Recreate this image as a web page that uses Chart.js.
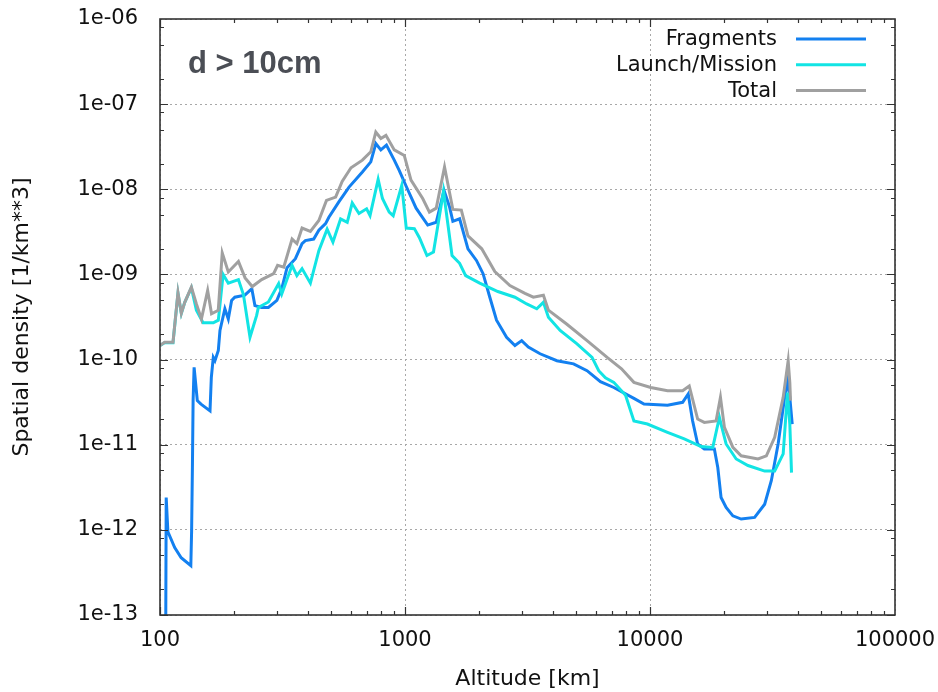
<!DOCTYPE html>
<html>
<head>
  <meta charset="UTF-8">
  <title>Spatial density vs altitude</title>
  <script src="https://cdn.jsdelivr.net/npm/chart.js@4.4.0/dist/chart.umd.min.js"></script>
  <style>
    html, body { margin: 0; padding: 0; background: #fff; }
  </style>
</head>
<body>
<canvas id="myChart" width="938" height="692"></canvas>
<script>
  // altitude [km] / spatial density [1/km^3]
  const fragAlt = [105.5, 106, 107.7, 114.8, 122, 133.6, 134.6, 135.6, 136.5, 137.8, 142, 147, 160, 162, 165, 167.6, 173, 175.7, 184, 190,
    196, 202, 222, 237, 244, 260, 277, 300, 314, 330, 357, 380, 392, 424, 445, 474, 489, 537, 591, 670,
    725, 760, 797, 840, 904, 947, 1009, 1110, 1238, 1341, 1443, 1520, 1568, 1671, 1807, 1957, 2083, 2219, 2364, 2598,
    2810, 2994, 3187, 3559, 4168, 4875, 5534, 6275, 7116, 8597, 9449, 11790, 13590, 14320, 14930, 15650, 16660, 18310, 18910, 19500,
    20450, 21790, 23560, 26730, 29380, 31290, 33340, 35290, 36410, 37210, 38060];
  const fragDens = [5e-14, 2.4e-12, 9.5e-13, 6.2e-13, 4.7e-13, 3.8e-13, 9.7e-13, 5.4e-12, 3.3e-11, 8.1e-11, 3.3e-11, 3.0e-11, 2.5e-11, 6.2e-11, 1.06e-10, 9.7e-11, 1.28e-10, 2.2e-10, 3.95e-10, 3.0e-10,
    4.95e-10, 5.4e-10, 5.7e-10, 6.8e-10, 4.3e-10, 4.1e-10, 4.1e-10, 4.95e-10, 6.8e-10, 1.2e-9, 1.53e-9, 2.3e-9, 2.5e-9, 2.6e-9, 3.3e-9, 3.95e-9, 4.7e-9, 7.1e-9, 1.06e-8, 1.6e-8,
    2.1e-8, 3.45e-8, 2.9e-8, 3.3e-8, 2.2e-8, 1.67e-8, 1.1e-8, 6.0e-9, 3.8e-9, 4.1e-9, 9.7e-9, 6.2e-9, 4.2e-9, 4.5e-9, 2.0e-9, 1.46e-9, 1.02e-9, 5.4e-10, 2.9e-10, 1.83e-10,
    1.46e-10, 1.67e-10, 1.4e-10, 1.17e-10, 9.7e-11, 8.9e-11, 7.4e-11, 5.5e-11, 4.7e-11, 3.5e-11, 3.0e-11, 2.9e-11, 3.15e-11, 3.95e-11, 1.9e-11, 1.02e-11, 8.9e-12, 8.9e-12, 5.4e-12, 2.4e-12,
    1.83e-12, 1.46e-12, 1.34e-12, 1.4e-12, 2.0e-12, 3.8e-12, 1.02e-11, 3.3e-11, 5.7e-11, 3.6e-11, 1.75e-11];

  const launchAlt = [100, 104.4, 113, 118.4, 122.2, 126.2, 134.3, 140.8, 150, 165, 173, 181, 190, 209, 219, 233, 248, 252, 277, 305,
    314, 346, 362, 380, 411, 445, 481, 508, 546, 581, 609, 649, 697, 720, 777, 809, 862, 895, 970, 1012,
    1092, 1145, 1229, 1307, 1436, 1556, 1671, 1768, 2018, 2393, 2810, 3139, 3450, 3672, 3849, 4298, 5035, 5801, 6175, 6578,
    7116, 7948, 8597, 9757, 11790, 13800, 16150, 18040, 19200, 19500, 20450, 22480, 25110, 29380, 32280, 34960, 36410, 37210, 37810];
  const launchDens = [1.46e-10, 1.58e-10, 1.58e-10, 6.0e-10, 3.5e-10, 4.7e-10, 7.0e-10, 3.8e-10, 2.7e-10, 2.7e-10, 2.9e-10, 1.0e-9, 7.9e-10, 8.7e-10, 5.8e-10, 1.83e-10, 3.3e-10, 4.1e-10, 4.75e-10, 7.8e-10,
    5.9e-10, 1.28e-9, 9.7e-10, 1.17e-9, 7.9e-10, 1.9e-9, 3.4e-9, 2.4e-9, 4.5e-9, 4.1e-9, 6.9e-9, 5.2e-9, 5.9e-9, 4.9e-9, 1.31e-8, 7.8e-9, 5.4e-9, 4.9e-9, 1.11e-8, 3.5e-9,
    3.45e-9, 2.7e-9, 1.67e-9, 1.83e-9, 9.5e-9, 1.67e-9, 1.35e-9, 9.7e-10, 7.9e-10, 6.3e-10, 5.4e-10, 4.5e-10, 3.95e-10, 4.7e-10, 3.15e-10, 2.2e-10, 1.53e-10, 1.06e-10, 7.4e-11, 6.1e-11,
    5.4e-11, 3.8e-11, 1.9e-11, 1.75e-11, 1.4e-11, 1.17e-11, 9.5e-12, 9.3e-12, 2.1e-11, 1.75e-11, 1.02e-11, 6.8e-12, 5.7e-12, 4.9e-12, 4.9e-12, 7.8e-12, 4.1e-11, 1.75e-11, 4.7e-12];

  const totalAlt = [100, 104.4, 113, 118.4, 122.2, 126.2, 134.3, 140.8, 147.6, 156.5, 162.3, 172.9, 179.5, 190, 209, 222.5, 238, 260, 291, 302,
    320, 346, 362, 380, 411, 445, 478, 521, 554, 602, 670, 725, 760, 797, 836, 904, 993, 1058, 1181, 1258,
    1341, 1450, 1568, 1698, 1807, 2057, 2326, 2680, 3088, 3341, 3672, 3849, 4580, 5534, 6685, 7652, 8597, 10070, 11790, 13590,
    14460, 15650, 16660, 18610, 19390, 20130, 21790, 23560, 27600, 29850, 32280, 34960, 36640, 37210, 37460];
  const totalDens = [1.46e-10, 1.6e-10, 1.6e-10, 6.1e-10, 3.5e-10, 4.7e-10, 7.1e-10, 4.5e-10, 3.0e-10, 6.5e-10, 3.45e-10, 3.8e-10, 1.79e-9, 1.07e-9, 1.42e-9, 9.1e-10, 7.2e-10, 8.7e-10, 1.02e-9, 1.28e-9,
    1.22e-9, 2.6e-9, 2.3e-9, 3.5e-9, 3.2e-9, 4.3e-9, 7.4e-9, 8.1e-9, 1.24e-8, 1.79e-8, 2.2e-8, 2.76e-8, 4.7e-8, 3.95e-8, 4.3e-8, 2.9e-8, 2.5e-8, 1.28e-8, 7.8e-9, 5.4e-9,
    6.0e-9, 1.83e-8, 5.8e-9, 5.7e-9, 2.84e-9, 2.0e-9, 1.08e-9, 7.4e-10, 6.0e-10, 5.4e-10, 5.7e-10, 3.8e-10, 2.6e-10, 1.67e-10, 1.06e-10, 7.8e-11, 5.4e-11, 4.7e-11, 4.3e-11, 4.3e-11,
    4.9e-11, 2.0e-11, 1.83e-11, 1.9e-11, 3.6e-11, 1.6e-11, 9.3e-12, 7.4e-12, 6.8e-12, 7.4e-12, 1.22e-11, 3.6e-11, 9.7e-11, 5.4e-11, 3.3e-11];

  const xTicks = [100, 1000, 10000, 100000];
  const xTickLabels = ['100', '1000', '10000', '100000'];
  const yTicks = [1e-13, 1e-12, 1e-11, 1e-10, 1e-9, 1e-8, 1e-7, 1e-6];
  const yTickLabels = ['1e-13', '1e-12', '1e-11', '1e-10', '1e-09', '1e-08', '1e-07', '1e-06'];

  function pairs(xs, ys) {
    return xs.map((v, i) => ({x: v, y: ys[i]}));
  }

  const FONT = "'DejaVu Sans', sans-serif";
  Chart.defaults.font.family = FONT;
  Chart.defaults.font.size = 21;
  Chart.defaults.color = '#111';

  // gnuplot-like frame: box, inward major/minor ticks, legend, label
  const frame = {
    id: 'frame',
    afterDraw(chart) {
      const ctx = chart.ctx;
      const a = chart.chartArea;
      const x = chart.scales.x, y = chart.scales.y;
      ctx.save();
      ctx.strokeStyle = '#333';
      ctx.lineWidth = 1.2;
      ctx.beginPath();
      for (let e = 2; e < 5; e++) {
        for (let m = 1; m < 10; m++) {
          const px = Math.round(x.getPixelForValue(m * Math.pow(10, e))) + 0.5;
          const len = m === 1 ? 8 : 4;
          ctx.moveTo(px, a.bottom); ctx.lineTo(px, a.bottom - len);
          ctx.moveTo(px, a.top); ctx.lineTo(px, a.top + len);
        }
      }
      for (let e = -13; e < -6; e++) {
        [1, 2, 5, 8].forEach(m => {
          const py = Math.round(y.getPixelForValue(m * Math.pow(10, e))) + 0.5;
          const len = m === 1 ? 8 : 4;
          ctx.moveTo(a.left, py); ctx.lineTo(a.left + len, py);
          ctx.moveTo(a.right, py); ctx.lineTo(a.right - len, py);
        });
      }
      ctx.stroke();
      ctx.lineWidth = 1.6;
      ctx.strokeRect(a.left, a.top, a.right - a.left, a.bottom - a.top);

      // legend
      ctx.font = '21px ' + FONT;
      ctx.textAlign = 'right';
      ctx.textBaseline = 'middle';
      chart.data.datasets.forEach((ds, i) => {
        const ly = 39 + i * 25.7;
        ctx.fillStyle = '#111';
        ctx.fillText(ds.label, 777, ly + 1);
        ctx.strokeStyle = ds.borderColor;
        ctx.lineWidth = 3;
        ctx.beginPath();
        ctx.moveTo(796, ly); ctx.lineTo(866, ly);
        ctx.stroke();
      });

      // size label
      ctx.font = "bold 31px 'Liberation Sans', Arial, sans-serif";
      ctx.textAlign = 'left';
      ctx.textBaseline = 'alphabetic';
      ctx.fillStyle = '#4b4e55';
      ctx.fillText('d > 10cm', 188, 73);
      ctx.restore();
    }
  };

  const ctx = document.getElementById('myChart').getContext('2d');
  const chart = new Chart(ctx, {
    type: 'line',
    data: {
      datasets: [{
        label: 'Fragments',
        data: pairs(fragAlt, fragDens),
        borderColor: '#1380f0',
        order: 2
      }, {
        label: 'Launch/Mission',
        data: pairs(launchAlt, launchDens),
        borderColor: '#12e4e4',
        order: 1
      }, {
        label: 'Total',
        data: pairs(totalAlt, totalDens),
        borderColor: '#a0a0a0',
        order: 0
      }]
    },
    options: {
      responsive: false,
      animation: false,
      devicePixelRatio: 1,
      layout: { padding: { top: 19, right: 43, bottom: 0, left: 0 } },
      elements: {
        line: { borderWidth: 3, tension: 0, fill: false },
        point: { radius: 0 }
      },
      plugins: {
        legend: { display: false },
        tooltip: { enabled: false }
      },
      scales: {
        x: {
          type: 'logarithmic',
          min: 100,
          max: 100000,
          afterBuildTicks: s => { s.ticks = xTicks.map(v => ({value: v})); },
          afterFit: s => { s.height = 77; s.paddingLeft = 0; s.paddingRight = 0; },
          ticks: {
            autoSkip: false,
            maxRotation: 0,
            padding: 13,
            callback: (v, i) => xTickLabels[i]
          },
          grid: { color: '#a8a8a8', lineWidth: 1, drawTicks: false },
          border: { display: false, dash: [2, 3] },
          title: { display: true, text: 'Altitude [km]', font: { size: 22 }, padding: { top: 0, bottom: 0 } }
        },
        y: {
          type: 'logarithmic',
          min: 1e-13,
          max: 1e-6,
          afterBuildTicks: s => { s.ticks = yTicks.map(v => ({value: v})); },
          afterFit: s => { s.width = 160; s.paddingTop = 0; s.paddingBottom = 0; },
          ticks: {
            autoSkip: false,
            padding: 22,
            callback: (v, i) => yTickLabels[i]
          },
          grid: { color: '#a8a8a8', lineWidth: 1, drawTicks: false },
          border: { display: false, dash: [2, 3] },
          title: { display: true, text: 'Spatial density [1/km**3]', font: { size: 22 }, padding: { top: 9, bottom: 0 } }
        }
      }
    },
    plugins: [frame]
  });
</script>
</body>
</html>
